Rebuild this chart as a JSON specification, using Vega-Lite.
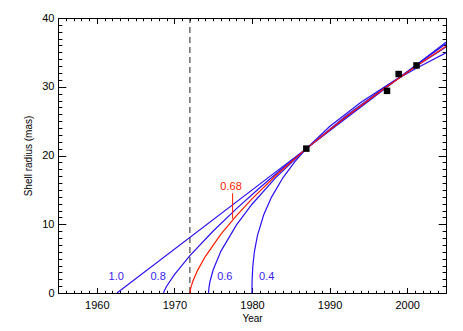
{
  "$schema": "https://vega.github.io/schema/vega-lite/v6.json",
  "width": 388,
  "height": 275,
  "autosize": {"type": "none"},
  "padding": {"left": 58, "top": 18, "right": 17, "bottom": 38},
  "config": {
    "view": {"stroke": null},
    "font": "Liberation Sans",
    "axis": {
      "grid": false,
      "domainColor": "black",
      "tickColor": "black",
      "labelColor": "black",
      "titleColor": "black",
      "labelFont": "Liberation Sans",
      "titleFont": "Liberation Sans",
      "labelFontSize": 11,
      "titleFontSize": 10,
      "titleFontWeight": "normal",
      "domainWidth": 1,
      "tickWidth": 1
    }
  },
  "datasets": {
    "curves": [
      {"m": "1.0", "t": 1962.6, "r": 0},
      {"m": "1.0", "t": 1987, "r": 21},
      {"m": "1.0", "t": 2005, "r": 36.49},
      {"m": "0.8", "t": 1968.6, "r": 0},
      {"m": "0.8", "t": 1968.7, "r": 0.32},
      {"m": "0.8", "t": 1969, "r": 0.98},
      {"m": "0.8", "t": 1970, "r": 2.67},
      {"m": "0.8", "t": 1972, "r": 5.44},
      {"m": "0.8", "t": 1975, "r": 9.02},
      {"m": "0.8", "t": 1978, "r": 12.27},
      {"m": "0.8", "t": 1981, "r": 15.31},
      {"m": "0.8", "t": 1984, "r": 18.21},
      {"m": "0.8", "t": 1987, "r": 21},
      {"m": "0.8", "t": 1992, "r": 25.45},
      {"m": "0.8", "t": 1997, "r": 29.72},
      {"m": "0.8", "t": 2001, "r": 33.02},
      {"m": "0.8", "t": 2005, "r": 36.24},
      {"m": "0.68", "t": 1972, "r": 0},
      {"m": "0.68", "t": 1972.1, "r": 0.70},
      {"m": "0.68", "t": 1972.4, "r": 1.79},
      {"m": "0.68", "t": 1973, "r": 3.33},
      {"m": "0.68", "t": 1974, "r": 5.34},
      {"m": "0.68", "t": 1976, "r": 8.55},
      {"m": "0.68", "t": 1978, "r": 11.26},
      {"m": "0.68", "t": 1980, "r": 13.70},
      {"m": "0.68", "t": 1983, "r": 17.01},
      {"m": "0.68", "t": 1987, "r": 21},
      {"m": "0.68", "t": 1992, "r": 25.54},
      {"m": "0.68", "t": 1997, "r": 29.72},
      {"m": "0.68", "t": 2001, "r": 32.88},
      {"m": "0.68", "t": 2005, "r": 35.90},
      {"m": "0.6", "t": 1974.4, "r": 0},
      {"m": "0.6", "t": 1974.45, "r": 0.76},
      {"m": "0.6", "t": 1974.6, "r": 1.75},
      {"m": "0.6", "t": 1975, "r": 3.38},
      {"m": "0.6", "t": 1976, "r": 6.09},
      {"m": "0.6", "t": 1978, "r": 9.90},
      {"m": "0.6", "t": 1980, "r": 12.91},
      {"m": "0.6", "t": 1983, "r": 16.70},
      {"m": "0.6", "t": 1987, "r": 21},
      {"m": "0.6", "t": 1992, "r": 25.66},
      {"m": "0.6", "t": 1997, "r": 29.82},
      {"m": "0.6", "t": 2001, "r": 32.88},
      {"m": "0.6", "t": 2005, "r": 35.76},
      {"m": "0.4", "t": 1980, "r": 0},
      {"m": "0.4", "t": 1980.005, "r": 1.16},
      {"m": "0.4", "t": 1980.02, "r": 2.02},
      {"m": "0.4", "t": 1980.1, "r": 3.84},
      {"m": "0.4", "t": 1980.3, "r": 5.96},
      {"m": "0.4", "t": 1980.7, "r": 8.36},
      {"m": "0.4", "t": 1981.5, "r": 11.34},
      {"m": "0.4", "t": 1982.5, "r": 13.91},
      {"m": "0.4", "t": 1984, "r": 16.79},
      {"m": "0.4", "t": 1985.5, "r": 19.07},
      {"m": "0.4", "t": 1987, "r": 21},
      {"m": "0.4", "t": 1990, "r": 24.22},
      {"m": "0.4", "t": 1994, "r": 27.71},
      {"m": "0.4", "t": 1998, "r": 30.64},
      {"m": "0.4", "t": 2001, "r": 32.59},
      {"m": "0.4", "t": 2005, "r": 34.94}
    ],
    "obs": [
      {"t": 1987, "r": 21},
      {"t": 1997.4, "r": 29.4},
      {"t": 1998.9, "r": 31.85},
      {"t": 2001.2, "r": 33.1}
    ],
    "labels": [
      {"text": "1.0", "t": 1962.5, "r": 2.3},
      {"text": "0.8", "t": 1967.9, "r": 2.3},
      {"text": "0.6", "t": 1976.5, "r": 2.3},
      {"text": "0.4", "t": 1981.9, "r": 2.3}
    ],
    "redlabel": [
      {"text": "0.68", "t": 1977.3, "r": 15.4}
    ],
    "pointer": [
      {"t": 1977.5, "r1": 14.5, "r2": 10.8}
    ],
    "epoch": [
      {"t": 1972}
    ]
  },
  "resolve": {"axis": {"x": "independent", "y": "independent"}},
  "layer": [
    {
      "data": {"name": "epoch"},
      "mark": {"type": "rule", "color": "#222222", "strokeDash": [6, 4], "strokeWidth": 1},
      "encoding": {
        "x": {"field": "t", "type": "quantitative", "scale": {"domain": [1955, 2005], "nice": false, "zero": false}, "axis": null},
        "y": {"datum": 0, "type": "quantitative", "scale": {"domain": [0, 40], "nice": false}, "axis": null},
        "y2": {"datum": 40}
      }
    },
    {
      "data": {"name": "curves"},
      "transform": [{"filter": "datum.m != '0.68'"}],
      "mark": {"type": "line", "color": "#2a10f0", "strokeWidth": 1.2, "clip": true},
      "encoding": {
        "x": {"field": "t", "type": "quantitative", "scale": {"domain": [1955, 2005], "nice": false, "zero": false},
          "axis": {"orient": "bottom", "values": [1960, 1970, 1980, 1990, 2000], "format": "d", "ticks": false, "labelPadding": 6, "labelFlush": false, "title": "Year", "titlePadding": 3, "domain": true}},
        "y": {"field": "r", "type": "quantitative", "scale": {"domain": [0, 40], "nice": false},
          "axis": {"orient": "left", "values": [0, 10, 20, 30, 40], "ticks": false, "labelPadding": 4, "labelFlush": false, "title": "Shell radius (mas)", "titlePadding": 8, "domain": true}},
        "detail": {"field": "m"}
      }
    },
    {
      "data": {"name": "curves"},
      "transform": [{"filter": "datum.m == '0.68'"}],
      "mark": {"type": "line", "color": "#ff1a00", "strokeWidth": 1.2, "clip": true},
      "encoding": {
        "x": {"field": "t", "type": "quantitative", "scale": {"domain": [1955, 2005], "nice": false, "zero": false},
          "axis": {"orient": "bottom", "values": [1960, 1970, 1980, 1990, 2000], "labels": false, "tickSize": -5.5, "domain": false, "title": null}},
        "y": {"field": "r", "type": "quantitative", "scale": {"domain": [0, 40], "nice": false},
          "axis": {"orient": "left", "values": [0, 10, 20, 30, 40], "labels": false, "tickSize": -7.8, "domain": false, "title": null}}
      }
    },
    {
      "data": {"name": "pointer"},
      "mark": {"type": "rule", "color": "#ff1a00", "strokeWidth": 1},
      "encoding": {
        "x": {"field": "t", "type": "quantitative", "scale": {"domain": [1955, 2005], "nice": false, "zero": false}, "axis": null},
        "y": {"field": "r1", "type": "quantitative", "scale": {"domain": [0, 40], "nice": false}, "axis": null},
        "y2": {"field": "r2"}
      }
    },
    {
      "data": {"name": "obs"},
      "mark": {"type": "point", "shape": "square", "filled": true, "color": "black", "size": 42, "opacity": 1},
      "encoding": {
        "x": {"field": "t", "type": "quantitative", "scale": {"domain": [1955, 2005], "nice": false, "zero": false},
          "axis": {"orient": "bottom", "values": [1955,1956,1957,1958,1959,1960,1961,1962,1963,1964,1965,1966,1967,1968,1969,1970,1971,1972,1973,1974,1975,1976,1977,1978,1979,1980,1981,1982,1983,1984,1985,1986,1987,1988,1989,1990,1991,1992,1993,1994,1995,1996,1997,1998,1999,2000,2001,2002,2003,2004,2005], "labels": false, "tickSize": -2.75, "domain": false, "title": null}},
        "y": {"field": "r", "type": "quantitative", "scale": {"domain": [0, 40], "nice": false},
          "axis": {"orient": "left", "values": [0,1,2,3,4,5,6,7,8,9,10,11,12,13,14,15,16,17,18,19,20,21,22,23,24,25,26,27,28,29,30,31,32,33,34,35,36,37,38,39,40], "labels": false, "tickSize": -3.9, "domain": false, "title": null}}
      }
    },
    {
      "data": {"name": "labels"},
      "mark": {"type": "text", "color": "#3a22ee", "fontSize": 11, "font": "Liberation Sans", "align": "center", "baseline": "middle"},
      "encoding": {
        "x": {"field": "t", "type": "quantitative", "scale": {"domain": [1955, 2005], "nice": false, "zero": false},
          "axis": {"orient": "top", "values": [1960, 1970, 1980, 1990, 2000], "labels": false, "tickSize": -5.5, "domain": false, "title": null}},
        "y": {"field": "r", "type": "quantitative", "scale": {"domain": [0, 40], "nice": false},
          "axis": {"orient": "right", "values": [0, 10, 20, 30, 40], "labels": false, "tickSize": -7.8, "domain": false, "title": null}},
        "text": {"field": "text"}
      }
    },
    {
      "data": {"name": "redlabel"},
      "mark": {"type": "text", "color": "#ff1a00", "fontSize": 11, "font": "Liberation Sans", "align": "center", "baseline": "middle"},
      "encoding": {
        "x": {"field": "t", "type": "quantitative", "scale": {"domain": [1955, 2005], "nice": false, "zero": false},
          "axis": {"orient": "top", "values": [1955,1956,1957,1958,1959,1960,1961,1962,1963,1964,1965,1966,1967,1968,1969,1970,1971,1972,1973,1974,1975,1976,1977,1978,1979,1980,1981,1982,1983,1984,1985,1986,1987,1988,1989,1990,1991,1992,1993,1994,1995,1996,1997,1998,1999,2000,2001,2002,2003,2004,2005], "labels": false, "tickSize": -2.75, "domain": true, "title": null}},
        "y": {"field": "r", "type": "quantitative", "scale": {"domain": [0, 40], "nice": false},
          "axis": {"orient": "right", "values": [0,1,2,3,4,5,6,7,8,9,10,11,12,13,14,15,16,17,18,19,20,21,22,23,24,25,26,27,28,29,30,31,32,33,34,35,36,37,38,39,40], "labels": false, "tickSize": -3.9, "domain": true, "title": null}},
        "text": {"field": "text"}
      }
    }
  ]
}
